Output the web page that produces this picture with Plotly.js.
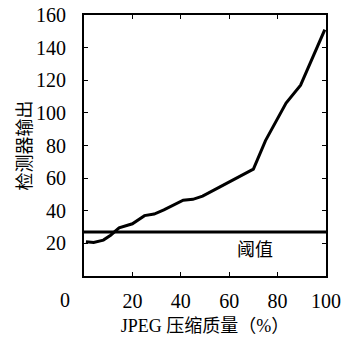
<!DOCTYPE html>
<html><head><meta charset="utf-8">
<script src="https://cdn.plot.ly/plotly-3.0.1.min.js"></script>
<style>html,body{margin:0;padding:0;background:#fff;}#chart{width:344px;height:343px;}</style>
</head><body><div id="chart"></div>
<script>
const quality = [0.8, 4, 8, 11, 14.5, 17, 20, 25, 29, 33, 41, 45, 49, 56, 63, 70, 75, 83.5, 89.5, 94.5, 99.5];
const detectorOutput = [21, 20.5, 22, 25, 29.5, 30.5, 32, 37, 38, 40.5, 46.5, 47, 49, 54.5, 60, 65.5, 83, 106, 117, 134.5, 151];
const thresholdX = [0, 100];
const thresholdY = [27, 27];
const thresholdLabel = '阈值';
const xTicks = [20, 40, 60, 80, 100];
const yTicks = [20, 40, 60, 80, 100, 120, 140, 160];
const originLabel = '0';

const fam = 'Liberation Serif, Times New Roman, Noto Sans CJK SC, serif';
const data = [
  {x: quality, y: detectorOutput, mode: 'lines', line: {color: '#000', width: 3}, hoverinfo: 'none'},
  {x: thresholdX, y: thresholdY, mode: 'lines', line: {color: '#000', width: 3}, hoverinfo: 'none'}
];
const layout = {
  width: 344, height: 343,
  margin: {l: 84, r: 18, t: 15, b: 67},
  paper_bgcolor: '#fff', plot_bgcolor: '#fff',
  showlegend: false,
  font: {family: fam, color: '#000', size: 20},
  xaxis: {
    range: [0, 100], tickvals: xTicks, ticktext: xTicks.map(String),
    ticks: 'inside', ticklen: 4, tickcolor: '#000', showgrid: false, zeroline: false,
    showline: true, linecolor: '#000', linewidth: 2, mirror: 'ticks',
    ticklabelstandoff: 6,
    tickfont: {family: fam, size: 20},
    title: {text: 'JPEG 压缩质量（%）', font: {family: fam, size: 18}, standoff: 8}
  },
  yaxis: {
    range: [0, 160], tickvals: yTicks, ticktext: yTicks.map(String),
    ticks: 'inside', ticklen: 4, tickcolor: '#000', showgrid: false, zeroline: false,
    showline: true, linecolor: '#000', linewidth: 2, mirror: 'ticks',
    ticklabelstandoff: 12,
    tickfont: {family: fam, size: 20},
    title: {text: '检测器输出', font: {family: 'Noto Sans CJK SC, sans-serif', size: 18}, standoff: 0}
  },
  annotations: [
    {x: 70.5, y: 17, xref: 'x', yref: 'y', text: thresholdLabel, showarrow: false,
     font: {family: 'Noto Sans CJK SC, serif', size: 18, color: '#000'}},
    {x: -0.079, y: -0.092, xref: 'paper', yref: 'paper', text: originLabel, showarrow: false,
     xanchor: 'center', yanchor: 'middle',
     font: {family: fam, size: 20, color: '#000'}}
  ]
};
Plotly.newPlot('chart', data, layout, {staticPlot: true, displayModeBar: false});
</script></body></html>
